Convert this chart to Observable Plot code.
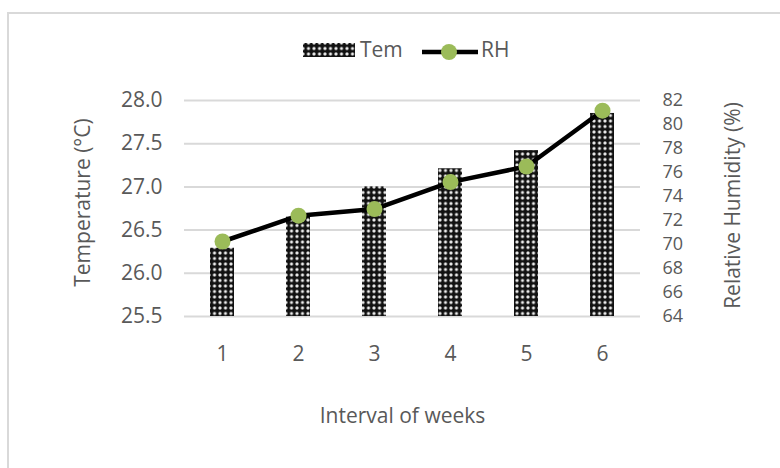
<!DOCTYPE html>
<html>
<head>
<meta charset="utf-8">
<script src="https://cdn.jsdelivr.net/npm/d3@7"></script>
<script src="https://cdn.jsdelivr.net/npm/@observablehq/plot@0.6"></script>
<style>
  body { margin: 0; background: #fff; }
  #wrap { position: relative; width: 780px; height: 468px; overflow: hidden;
          font-family: "Open Sans", sans-serif; color: #595959; }
  #frame { position: absolute; left: 7px; top: 12px; width: 820px; height: 520px;
           border-left: 2px solid #d9d9d9; border-top: 2px solid #d9d9d9; }
  #chart { position: absolute; left: 0; top: 0; }
  .leg { position: absolute; font-size: 21px; line-height: 21px; }
</style>
</head>
<body>
<div id="wrap">
  <div id="frame"></div>
  <div id="chart"></div>
  <svg class="leg" style="left:303px;top:43px" width="52" height="14">
    <defs>
      <pattern id="checkerLeg" width="5.5" height="5.5" patternUnits="userSpaceOnUse">
        <rect width="5.5" height="5.5" fill="#111"></rect>
        <circle cx="0" cy="0" r="1.6" fill="#eee"></circle>
        <circle cx="5.5" cy="0" r="1.6" fill="#eee"></circle>
        <circle cx="0" cy="5.5" r="1.6" fill="#eee"></circle>
        <circle cx="5.5" cy="5.5" r="1.6" fill="#eee"></circle>
      </pattern>
    </defs>
    <rect width="52" height="14" fill="url(#checkerLeg)"></rect>
  </svg>
  <div class="leg" style="left:360px;top:39px">Tem</div>
  <svg class="leg" style="left:421px;top:42px" width="58" height="20">
    <line x1="1" y1="10" x2="57" y2="10" stroke="#000" stroke-width="4.5"></line>
    <circle cx="28" cy="10" r="8" fill="#9bbb59"></circle>
  </svg>
  <div class="leg" style="left:481px;top:39px">RH</div>
</div>
<script>
// Weekly mean temperature (°C) and relative humidity (%)
const weeks = [1, 2, 3, 4, 5, 6];
const temperature = [26.29, 26.65, 27.0, 27.21, 27.42, 27.85];
const humidity = [70.25, 72.4, 72.95, 75.2, 76.5, 81.15];

const tempTicks = [25.5, 26.0, 26.5, 27.0, 27.5, 28.0];
const rhTicks = [64, 66, 68, 70, 72, 74, 76, 78, 80, 82];

// Map the humidity axis (64–82 %) onto the temperature axis (25.5–28.0 °C)
const T0 = 25.5, T1 = 28.0, H0 = 64, H1 = 82;
const toTemp = h => T0 + (h - H0) * (T1 - T0) / (H1 - H0);
const toHum = t => H0 + (t - T0) * (H1 - H0) / (T1 - T0);

const rows = weeks.map((w, i) => ({week: w, tem: temperature[i], rh: humidity[i]}));

const FS = 21;

const chart = Plot.plot({
  width: 780,
  height: 468,
  marginLeft: 184,
  marginRight: 140,
  marginTop: 100,
  marginBottom: 152,
  style: {fontFamily: "'Open Sans', sans-serif", fontSize: FS + "px", color: "#595959", background: "transparent", overflow: "visible"},
  x: {type: "band", domain: weeks, paddingInner: 0.684, paddingOuter: 0.342},
  y: {domain: [T0, T1]},
  marks: [
    Plot.gridY(tempTicks, {stroke: "#d9d9d9", strokeOpacity: 1, strokeWidth: 2}),
    Plot.barY(rows, {x: "week", y1: T0, y2: "tem", fill: "url(#checker)"}),
    Plot.line(rows, {x: "week", y: d => toTemp(d.rh), stroke: "#000", strokeWidth: 4.5}),
    Plot.dot(rows, {x: "week", y: d => toTemp(d.rh), r: 8, fill: "#9bbb59", stroke: "none"}),
    Plot.axisY(tempTicks, {anchor: "left", tickSize: 0, tickPadding: 22, tickFormat: d => d.toFixed(1), label: null, fill: "#595959", fontSize: FS}),
    Plot.axisY(rhTicks.map(toTemp), {anchor: "right", tickSize: 0, tickPadding: 22, tickFormat: t => String(Math.round(toHum(t))), label: null, fill: "#595959", fontSize: 18}),
    Plot.axisX({tickSize: 0, tickPadding: 30, label: null, fill: "#595959", fontSize: FS}),
    Plot.text(["Temperature (°C)"], {frameAnchor: "left", textAnchor: "middle", lineAnchor: "middle", dx: -101, dy: -6, rotate: -90, fill: "#595959", fontSize: FS}),
    Plot.text(["Relative Humidity (%)"], {frameAnchor: "right", textAnchor: "middle", lineAnchor: "middle", dx: 93, dy: -3, rotate: -90, fill: "#595959", fontSize: FS}),
    Plot.text(["Interval of weeks"], {frameAnchor: "bottom", textAnchor: "middle", lineAnchor: "middle", dy: 100, dx: -10, fill: "#595959", fontSize: FS})
  ]
});

// Checkered fill used by the temperature bars
const defs = d3.select(chart).insert("defs", ":first-child");
const pat = defs.append("pattern").attr("id", "checker")
  .attr("width", 5.5).attr("height", 5.5).attr("patternUnits", "userSpaceOnUse");
pat.append("rect").attr("width", 5.5).attr("height", 5.5).attr("fill", "#111");
[[0, 0], [5.5, 0], [0, 5.5], [5.5, 5.5]].forEach(([cx, cy]) =>
  pat.append("circle").attr("cx", cx).attr("cy", cy).attr("r", 1.6).attr("fill", "#eee"));

document.getElementById("chart").appendChild(chart);
</script>
</body>
</html>
